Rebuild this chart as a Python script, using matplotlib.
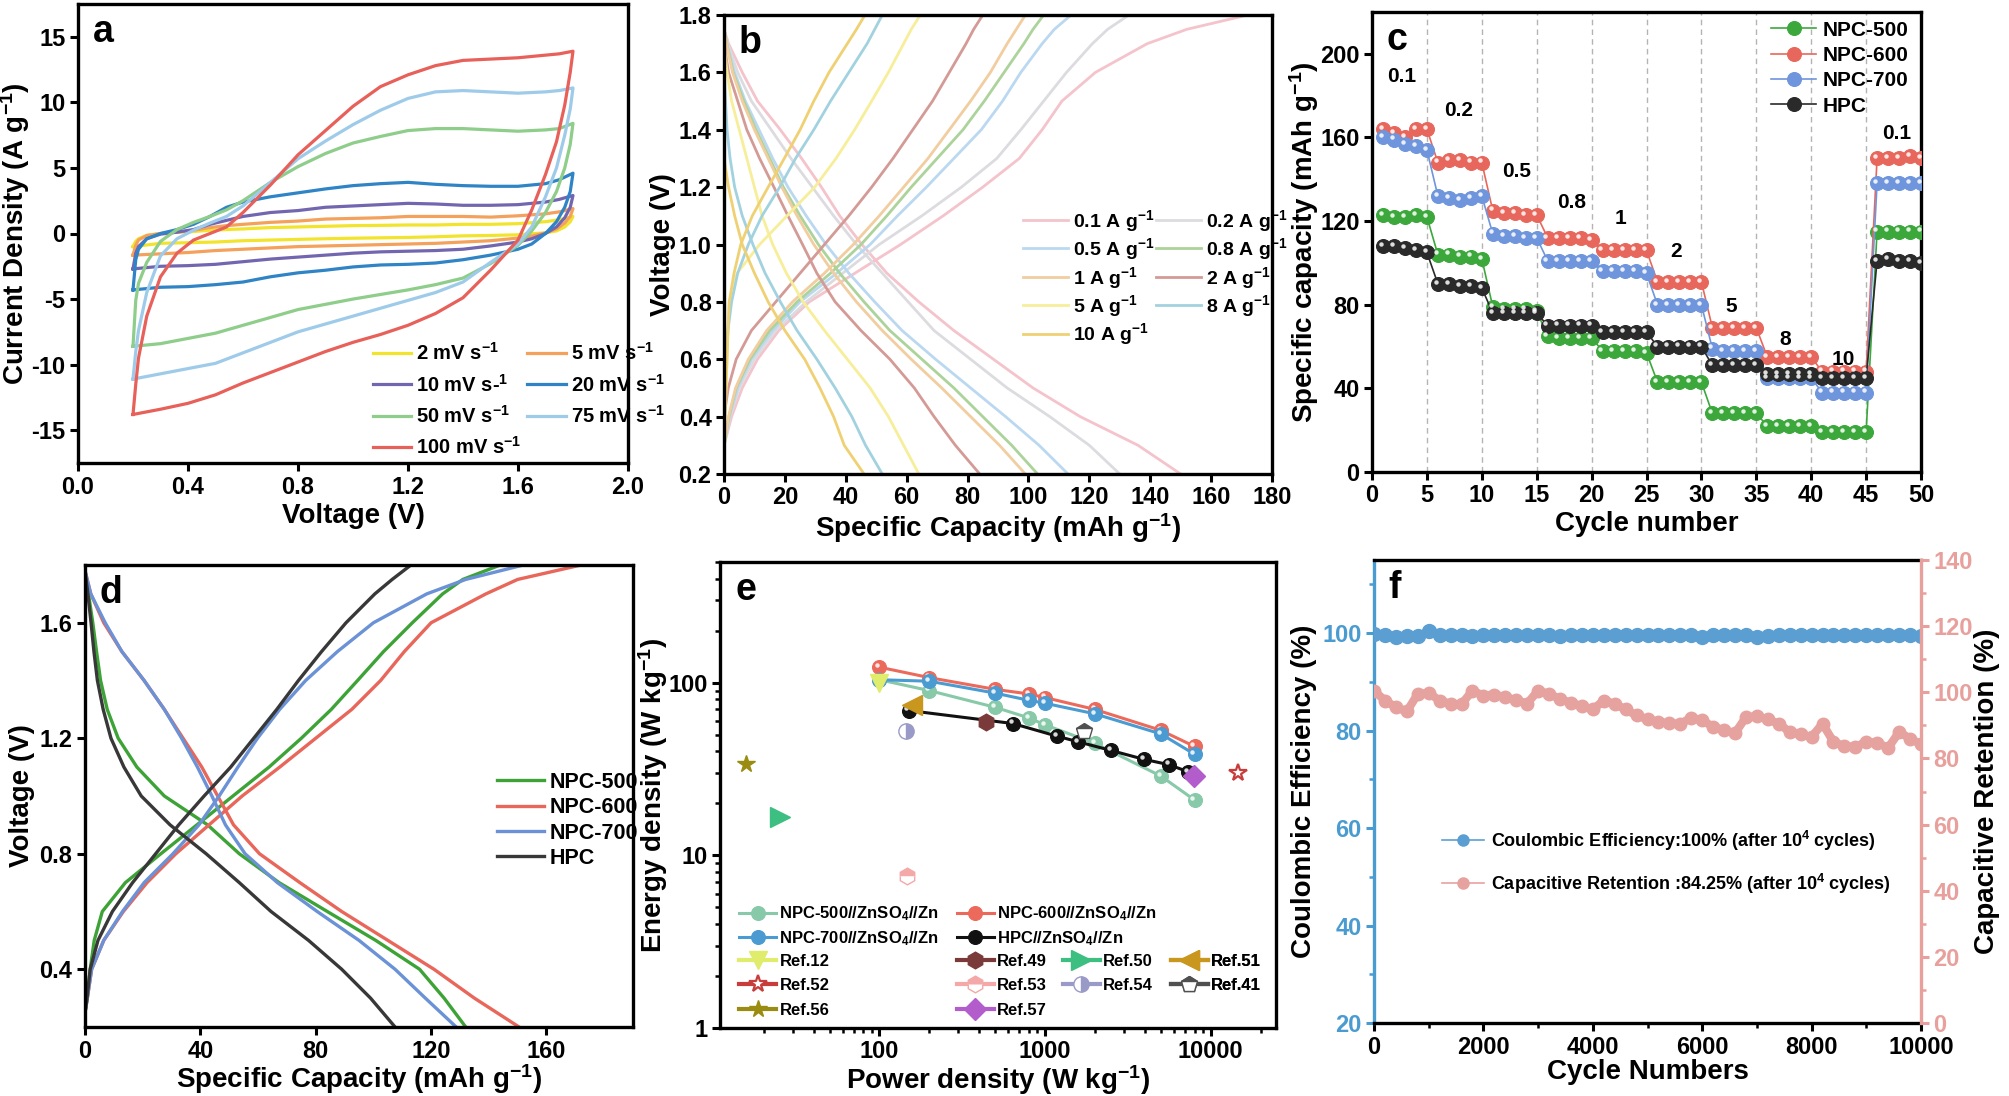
#!/usr/bin/env python3
import numpy as np
import matplotlib
matplotlib.use('Agg')
import matplotlib.pyplot as plt
import matplotlib.transforms as mtransforms
from matplotlib.ticker import MultipleLocator, LogLocator, NullFormatter, FormatStrFormatter

nan = np.nan

# ---------------- (a) CV curves at different scan rates ----------------
cv_fwd_v = [0.20, 0.21, 0.22, 0.25, 0.30, 0.36, 0.42, 0.48, 0.54, 0.60, 0.70, 0.80,
            0.90, 1.00, 1.10, 1.20, 1.30, 1.40, 1.50, 1.60, 1.70, 1.75, 1.80]
cv_rev_v = [1.80, 1.79, 1.77, 1.74, 1.70, 1.65, 1.60, 1.50, 1.40, 1.30, 1.20, 1.10,
            1.00, 0.90, 0.80, 0.70, 0.60, 0.50, 0.40, 0.30, 0.20]
cv2_fwd = [-1.0, -0.6, -0.4, -0.15, 0.0, 0.1, 0.15, 0.25, 0.3, 0.35, 0.45, 0.5, 0.55, 0.6, 0.62, 0.65, 0.65, 0.7, 0.7, 0.75, 0.9, 1.05, 1.3]
cv2_rev = [1.3, 0.9, 0.5, 0.2, 0.05, -0.02, -0.1, -0.15, -0.18, -0.25, -0.3, -0.33, -0.36, -0.4, -0.45, -0.5, -0.55, -0.65, -0.7, -0.75, -1.0]
cv5_fwd = [-1.65, -0.9, -0.5, -0.15, 0.0, 0.1, 0.25, 0.45, 0.6, 0.7, 0.85, 0.95, 1.1, 1.15, 1.2, 1.3, 1.3, 1.3, 1.25, 1.35, 1.5, 1.65, 1.9]
cv5_rev = [1.9, 1.3, 0.8, 0.35, 0.05, -0.2, -0.35, -0.55, -0.65, -0.75, -0.8, -0.85, -0.9, -0.95, -1.0, -1.1, -1.2, -1.3, -1.45, -1.55, -1.65]
cv10_fwd = [-2.7, -1.5, -1.0, -0.4, -0.05, 0.1, 0.3, 0.7, 1.0, 1.3, 1.6, 1.75, 2.0, 2.1, 2.2, 2.3, 2.25, 2.15, 2.15, 2.2, 2.4, 2.6, 2.9]
cv10_rev = [2.9, 2.0, 1.2, 0.5, 0.0, -0.4, -0.65, -0.95, -1.2, -1.3, -1.35, -1.4, -1.5, -1.65, -1.8, -1.95, -2.15, -2.35, -2.45, -2.5, -2.7]
cv20_fwd = [-4.3, -2.0, -1.2, -0.4, 0.0, 0.3, 0.7, 1.3, 2.0, 2.4, 2.8, 3.1, 3.4, 3.65, 3.8, 3.9, 3.75, 3.65, 3.6, 3.6, 3.8, 4.1, 4.6]
cv20_rev = [4.6, 3.2, 2.0, 0.9, 0.0, -0.8, -1.2, -1.65, -2.0, -2.25, -2.35, -2.4, -2.55, -2.8, -3.0, -3.3, -3.7, -3.9, -4.05, -4.1, -4.3]
cv50_fwd = [-8.6, -5.1, -3.8, -2.2, -0.6, 0.3, 0.85, 1.3, 1.8, 2.5, 3.9, 5.1, 6.1, 6.9, 7.4, 7.85, 8.0, 8.0, 7.9, 7.8, 7.9, 8.0, 8.4]
cv50_rev = [8.4, 6.8, 5.0, 3.2, 1.6, 0.2, -0.9, -2.3, -3.4, -3.9, -4.3, -4.65, -5.0, -5.4, -5.8, -6.4, -7.0, -7.6, -8.0, -8.4, -8.6]
cv75_fwd = [-11.1, -9.0, -7.4, -4.5, -1.7, -0.4, 0.25, 0.8, 1.3, 2.1, 3.9, 5.7, 7.05, 8.3, 9.4, 10.3, 10.8, 10.9, 10.8, 10.7, 10.8, 10.9, 11.1]
cv75_rev = [11.1, 9.5, 7.5, 5.0, 2.8, 0.5, -0.8, -2.2, -3.7, -4.5, -5.1, -5.7, -6.3, -6.9, -7.5, -8.3, -9.1, -9.9, -10.3, -10.7, -11.1]
cv100_fwd = [-13.8, -11.5, -9.5, -6.3, -3.3, -1.5, -0.5, 0.0, 0.5, 1.6, 3.7, 6.0, 7.85, 9.7, 11.2, 12.1, 12.8, 13.2, 13.3, 13.4, 13.6, 13.7, 13.9]
cv100_rev = [13.9, 12.3, 9.8, 7.0, 4.5, 1.8, -0.5, -2.8, -4.9, -6.1, -7.0, -7.7, -8.3, -9.0, -9.8, -10.6, -11.4, -12.3, -12.95, -13.4, -13.8]
cv_labels = ['2 mV s$^{-1}$', '5 mV s$^{-1}$', '10 mV s-$^{1}$', '20 mV s$^{-1}$',
             '50 mV s$^{-1}$', '75 mV s$^{-1}$', '100 mV s$^{-1}$']

# ---------------- (b) GCD curves at different current densities ----------------
gcd_labels = ['0.1 A g$^{-1}$', '0.2 A g$^{-1}$', '0.5 A g$^{-1}$', '0.8 A g$^{-1}$', '1 A g$^{-1}$',
              '2 A g$^{-1}$', '5 A g$^{-1}$', '8 A g$^{-1}$', '10 A g$^{-1}$']
chg_v = [0.3, 0.4, 0.5, 0.6, 0.7, 0.8, 0.9, 1.0, 1.1, 1.2, 1.3, 1.4, 1.5, 1.6, 1.7, 1.75, 1.8]
chg_01 = [0, 2.5, 6, 11, 18, 28, 43, 58, 72, 85, 97, 104.5, 111, 122, 139, 152, 172]
chg_02 = [0, 2, 5, 10, 17, 27, 39, 51, 65, 78, 89.6, 97.5, 105, 112.5, 121, 126, 133]
chg_05 = [0, 1.8, 4.5, 9, 16, 25, 37, 48, 57, 66.5, 75.5, 84.5, 91.5, 97.5, 104.5, 108.5, 114]
chg_08 = [0, 1.6, 4, 8.5, 15, 24, 35, 45, 53.5, 61.5, 70, 78.5, 85.5, 92, 98.5, 101.5, 105]
chg_1 = [0, 1.5, 3.8, 8, 14, 22.5, 33, 42.5, 51, 59, 67, 74, 81, 87.5, 93, 96, 99]
chg_2 = [nan, 0, 1.4, 4, 9, 17, 25, 33, 41, 48.5, 55.5, 62, 68.5, 74, 79.5, 82, 85]
chg_5 = [0, 0.3, 0.7, 1.0, 1.3, 1.8, 4.3, 11.7, 20.7, 29.8, 36.8, 42.9, 48.5, 54, 59, 61.5, 64.5]
chg_8 = [0, 0.2, 0.4, 0.7, 1.3, 2.5, 4.5, 8, 12.5, 18.3, 23.5, 29.5, 35, 41, 47, 49.5, 52]
chg_10 = [0, 0.3, 0.6, 1.0, 1.3, 1.7, 3.3, 5.5, 9.3, 14.5, 19.8, 25, 29.5, 34.5, 40.5, 43.5, 46.3]
dis_v = [1.75, 1.7, 1.6, 1.5, 1.4, 1.3, 1.2, 1.1, 1.0, 0.9, 0.8, 0.7, 0.6, 0.5, 0.4, 0.3, 0.2]
dis_01 = [0, 1.5, 6, 11, 18.5, 25.5, 32, 38, 45.3, 53.5, 64, 75.5, 88.5, 101.5, 117, 136, 150]
dis_02 = [0, 1.2, 4.5, 9, 15.5, 22, 29, 36, 43.5, 52, 60.5, 69, 81, 93, 107, 120, 130]
dis_05 = [0, 1, 3.5, 7, 11.5, 16, 21, 27, 33.5, 41, 49.5, 58.5, 69.5, 81, 92.5, 103.5, 113]
dis_08 = [0, 0.9, 3, 6.5, 10.5, 15, 19.5, 25, 31, 38, 46, 54.5, 65, 75.5, 85, 94.5, 103]
dis_1 = [0, 0.8, 2.8, 6, 10, 14.5, 19, 24, 29.5, 36, 43.5, 52, 61.5, 71.5, 81, 90.5, 99]
dis_2 = [nan, 0, 1.5, 4.5, 7.5, 11.7, 16.4, 21, 25.8, 30.5, 36.5, 45, 54.5, 62.5, 69, 76, 84]
dis_5 = [nan, 0, 1, 2.5, 5, 7.5, 10, 12.5, 16, 20.5, 26, 33, 40.5, 48, 54, 59, 64]
dis_8 = [nan, nan, 0, 0.5, 1.0, 2, 3.5, 6, 9.5, 13.5, 18.5, 24, 30.5, 36.5, 42, 46.5, 52]
dis_10 = [nan, nan, nan, nan, nan, 0, 1.5, 3.5, 6, 10, 14.5, 20, 26.5, 31.5, 36, 39.5, 46]

# ---------------- (c) rate performance ----------------
cycles = np.arange(1, 51)
c_npc500 = [123, 122, 122, 123, 122, 104, 104, 103, 103, 102, 79, 78, 78, 78, 77, 65, 64, 64, 64, 64,
            58, 58, 58, 58, 57, 43, 43, 43, 43, 43, 28, 28, 28, 28, 28, 22, 22, 22, 22, 22,
            19, 19, 19, 19, 19, 115, 115, 115, 115, 115]
c_npc600 = [164, 162, 160, 164, 164, 148, 149, 149, 148, 148, 125, 124, 124, 123, 123, 112, 112, 112, 112, 111,
            106, 106, 106, 106, 106, 91, 91, 91, 91, 91, 69, 69, 69, 69, 69, 55, 55, 55, 55, 55,
            48, 48, 48, 48, 48, 150, 150, 150, 151, 150]
c_npc700 = [160, 159, 157, 156, 154, 132, 131, 130, 131, 132, 114, 113, 113, 112, 112, 101, 101, 101, 101, 101,
            96, 96, 96, 96, 95, 80, 80, 80, 80, 80, 59, 58, 58, 58, 58, 45, 45, 45, 45, 45,
            38, 38, 38, 38, 38, 138, 138, 138, 138, 138]
c_hpc = [108, 108, 107, 106, 105, 90, 90, 89, 89, 88, 76, 76, 76, 76, 76, 70, 70, 70, 70, 70,
         67, 67, 67, 67, 67, 60, 60, 60, 60, 60, 51, 51, 51, 51, 51, 47, 47, 47, 47, 47,
         45, 45, 45, 45, 45, 101, 102, 101, 101, 100]
rate_text = ['0.1', '0.2', '0.5', '0.8', '1', '2', '5', '8', '10', '0.1']
rate_x = [2.7, 7.9, 13.2, 18.2, 22.6, 27.7, 32.7, 37.6, 42.9, 47.8]
rate_y = [189, 173, 143.5, 129, 121, 105.5, 79, 63.6, 53.7, 162]
samples = ['NPC-500', 'NPC-600', 'NPC-700', 'HPC']

# ---------------- (d) GCD of the four samples ----------------
d_chg_v = [0.25, 0.3, 0.4, 0.5, 0.6, 0.7, 0.8, 0.9, 1.0, 1.1, 1.2, 1.3, 1.4, 1.5, 1.6, 1.7, 1.75, 1.8]
d_chg_500 = [0, 0.8, 1.8, 3.2, 6, 14, 26.3, 38.8, 51.3, 63.8, 75, 85.4, 94.5, 103.5, 113.5, 124, 131, 144]
d_chg_600 = [0, 0.8, 2.3, 6.5, 13.3, 21.5, 31.5, 43, 54.5, 67.5, 80, 92.5, 102.5, 110.7, 120, 139, 150, 172]
d_chg_700 = [0, 0.8, 2.3, 6.5, 13, 20.5, 30.5, 39.5, 46.5, 53, 59.8, 67.5, 76.5, 87.5, 100, 118.5, 132, 152]
d_chg_hpc = [0, 0.7, 1.8, 4.5, 9.5, 16.5, 24.5, 32.5, 41.3, 50.5, 58.5, 66.5, 74, 82, 90.5, 100.5, 106.5, 113]
d_dis_v = [1.78, 1.7, 1.6, 1.5, 1.4, 1.3, 1.2, 1.1, 1.0, 0.9, 0.8, 0.7, 0.6, 0.5, 0.4, 0.3, 0.2]
d_dis_500 = [0, 1.2, 2.7, 4, 5.4, 7.7, 11.5, 18, 27.5, 42.5, 53.5, 67.3, 84, 100.8, 116, 124.5, 132]
d_dis_600 = [0, 2, 6.5, 12.8, 20.5, 27.5, 34, 40.5, 46, 51.5, 60.5, 74.5, 89, 105, 121, 135, 150.5]
d_dis_700 = [0, 2, 7, 12.8, 20.5, 27.5, 33.5, 39, 44, 48.7, 55.5, 66.7, 80.5, 95, 107.5, 118, 128.7]
d_dis_hpc = [0, 1, 2.1, 3.1, 4.3, 6.3, 9, 13.5, 19.5, 29.5, 42, 53.5, 64.5, 77.5, 89, 99, 107.5]

# ---------------- (e) Ragone plot ----------------
e_power = [100, 200, 500, 800, 1000, 2000, 5000, 8000]
e_500 = [104, 90, 72, 62.5, 57, 44.5, 28.8, 20.9]
e_600 = [123, 107, 91.5, 86, 82, 70, 53, 42.7]
e_700 = [104, 102, 87, 79, 76, 66, 50.5, 38.5]
e_hpc_power = [150, 640, 1180, 1580, 2500, 3950, 5600, 7300]
e_hpc = [69, 58, 49, 45.5, 40.5, 36, 33.5, 30.5]
ref_names = ['Ref.12', 'Ref.49', 'Ref.50', 'Ref.51', 'Ref.52', 'Ref.53', 'Ref.54', 'Ref.41', 'Ref.56', 'Ref.57']
ref_power = [100, 441, 25.2, 157, 14700, 146, 144, 1720, 15.6, 7960]
ref_energy = [99, 59.3, 16.6, 73.8, 29.8, 7.64, 52.2, 52.7, 33.8, 28.7]

# ---------------- (f) long-term cycling ----------------
f_cycle = np.arange(0, 10001, 200)
f_ce = [99.8, 99.7, 99.3, 99.5, 99.4, 100.4, 99.7, 99.6, 99.7, 99.5, 99.7, 99.6, 99.7, 99.6, 99.7, 99.6, 99.7,
        99.5, 99.7, 99.6, 99.7, 99.6, 99.7, 99.6, 99.7, 99.6, 99.7, 99.6, 99.7, 99.6, 99.3, 99.7, 99.6, 99.7,
        99.6, 99.3, 99.4, 99.7, 99.6, 99.7, 99.6, 99.7, 99.6, 99.7, 99.6, 99.7, 99.6, 99.7, 99.6, 99.7, 99.5]
f_ret = [100.5, 97.5, 95.5, 94.2, 99.5, 99.8, 97.5, 96.5, 96.4, 100.5, 99, 99.3, 98.5, 97.6, 96.6, 100.5,
         99.5, 98, 96.8, 95.8, 94.8, 97.5, 96.5, 94.8, 93, 91.8, 91, 90.6, 90.5, 92.3, 91.5, 89.6, 88.5,
         87.6, 92.5, 92.7, 91.8, 90.5, 88, 87.3, 86.5, 90.5, 85, 83.7, 83.5, 85, 84.7, 83.2, 88, 86, 84.3]

# ---------------- style ----------------
WIDE = ['Liberation Sans', 'DejaVu Sans']
plt.rcParams['font.family'] = WIDE
plt.rcParams['font.weight'] = 'bold'
plt.rcParams['mathtext.default'] = 'regular'
plt.rcParams['axes.unicode_minus'] = False
plt.rcParams['legend.frameon'] = False

fig = plt.figure(figsize=(20.09, 10.96), dpi=100)
W, H = 2009.0, 1096.0


def add_ax(left, top, right, bottom):
    return fig.add_axes([left / W, 1 - bottom / H, (right - left) / W, (bottom - top) / H])


def style(ax):
    for s in ax.spines.values():
        s.set_linewidth(2.4)
    ax.tick_params(which='major', direction='out', length=6, width=2.2, labelsize=17, pad=3)
    ax.tick_params(which='minor', direction='out', length=3.5, width=1.8)


def letter(ax, s):
    ax.text(0.027, 0.918, s, transform=ax.transAxes, fontsize=27, fontweight='bold',
            ha='left', va='baseline')


def labels(ax, xl, yl, xy, yx):
    ax.set_xlabel(xl, fontsize=20, fontweight='bold')
    ax.set_ylabel(yl, fontsize=20, fontweight='bold')
    ax.xaxis.set_label_coords(0.5, xy)
    ax.yaxis.set_label_coords(yx, 0.5)


def glossy(ax, x, y, color, ms, lw=1.3, label=None, zorder=3):
    line, = ax.plot(x, y, '-', color=color, lw=lw, marker='o', ms=ms, mec=color, mew=0.8,
                    label=label, zorder=zorder)
    hl = mtransforms.offset_copy(ax.transData, fig=fig, x=-ms * 0.16, y=ms * 0.16, units='points')
    ax.plot(x, y, ls='none', marker='o', ms=ms * 0.32, color='white', alpha=0.85, mew=0,
            transform=hl, zorder=zorder + 0.1)
    return line


# ======== (a) ========
ax = add_ax(78, 4, 628, 463)
style(ax)
cv_fwd = [cv2_fwd, cv5_fwd, cv10_fwd, cv20_fwd, cv50_fwd, cv75_fwd, cv100_fwd]
cv_rev = [cv2_rev, cv5_rev, cv10_rev, cv20_rev, cv50_rev, cv75_rev, cv100_rev]
cv_colors = ['#f2e42c', '#f4a15c', '#7366b0', '#2f84c5', '#8fcd8b', '#9ecbe9', '#e8605a']
hs = []
for f_i, r_i, col, lab in zip(cv_fwd, cv_rev, cv_colors, cv_labels):
    h, = ax.plot(cv_fwd_v + cv_rev_v[1:], f_i + r_i[1:], color=col, lw=2.3, label=lab)
    hs.append(h)
order = [0, 2, 4, 6, 1, 3, 5]
ax.legend([hs[k] for k in order], [cv_labels[k] for k in order], ncol=2, loc='upper left',
          bbox_to_anchor=(0.536, 0.263), borderaxespad=0, borderpad=0, fontsize=14.5,
          handlelength=1.9, handletextpad=0.25, columnspacing=0.3, labelspacing=0.47)
ax.set_xlim(0, 2.0)
ax.set_ylim(-17.5, 17.5)
ax.xaxis.set_major_locator(MultipleLocator(0.4))
ax.xaxis.set_major_formatter(FormatStrFormatter('%.1f'))
ax.yaxis.set_major_locator(MultipleLocator(5))
labels(ax, 'Voltage (V)', 'Current Density (A g$^{-1}$)', -0.088, -0.084)
letter(ax, 'a')

# ======== (b) ========
ax = add_ax(724, 15, 1272, 474)
style(ax)
gcd_colors = ['#f4c3cb', '#dcdce0', '#bbd8f1', '#abd39a', '#f1cd9f', '#d49a96', '#f7ee9a', '#a2d2df', '#efd173']
chg_all = [chg_01, chg_02, chg_05, chg_08, chg_1, chg_2, chg_5, chg_8, chg_10]
dis_all = [dis_01, dis_02, dis_05, dis_08, dis_1, dis_2, dis_5, dis_8, dis_10]
hs = []
for cq, dq, col, lab in zip(chg_all, dis_all, gcd_colors, gcd_labels):
    cq = np.array(cq, float)
    dq = np.array(dq, float)
    m = ~np.isnan(cq)
    h, = ax.plot(cq[m], np.array(chg_v)[m], color=col, lw=2.0, label=lab)
    m = ~np.isnan(dq)
    ax.plot(dq[m], np.array(dis_v)[m], color=col, lw=2.0)
    hs.append(h)
order = [0, 2, 4, 6, 8, 1, 3, 5, 7]
ax.legend([hs[k] for k in order], [gcd_labels[k] for k in order], ncol=2, loc='upper left',
          bbox_to_anchor=(0.546, 0.58), borderaxespad=0, borderpad=0, fontsize=14,
          handlelength=2.3, handletextpad=0.25, columnspacing=0.1, labelspacing=0.13)
ax.set_xlim(0, 180)
ax.set_ylim(0.2, 1.8)
ax.xaxis.set_major_locator(MultipleLocator(20))
ax.yaxis.set_major_locator(MultipleLocator(0.2))
ax.yaxis.set_major_formatter(FormatStrFormatter('%.1f'))
labels(ax, 'Specific Capacity (mAh g$^{-1}$)', 'Voltage (V)', -0.082, -0.088)
letter(ax, 'b')

# ======== (c) ========
ax = add_ax(1372, 12, 1921, 472)
style(ax)
for xv in range(5, 50, 5):
    ax.axvline(xv, color='#b4b4b4', lw=1.0, ls=(0, (4, 3)), zorder=1)
c_colors = ['#3ca83c', '#e8675c', '#6f95dc', '#2a2a2a']
for vals, col, lab in zip([c_npc500, c_npc600, c_npc700, c_hpc], c_colors, samples):
    glossy(ax, cycles, vals, col, 10, lw=1.2, label=lab)
for t, xv, yv in zip(rate_text, rate_x, rate_y):
    ax.text(xv, yv, t, fontsize=15, fontweight='bold', ha='center', va='center')
ax.legend(loc='upper right', bbox_to_anchor=(0.985, 0.99), borderaxespad=0, borderpad=0.2,
          fontsize=15, handlelength=2.2, handletextpad=0.3, labelspacing=0.3)
ax.set_xlim(0, 50)
ax.set_ylim(0, 220)
ax.xaxis.set_major_locator(MultipleLocator(5))
ax.yaxis.set_major_locator(MultipleLocator(40))
labels(ax, 'Cycle number', 'Specific capacity (mAh g$^{-1}$)', -0.085, -0.093)
letter(ax, 'c')

# ======== (d) ========
ax = add_ax(85, 565, 633, 1027)
style(ax)
d_colors = ['#3da336', '#e8665a', '#6b92d6', '#383838']
for cq, dq, col, lab in zip([d_chg_500, d_chg_600, d_chg_700, d_chg_hpc],
                            [d_dis_500, d_dis_600, d_dis_700, d_dis_hpc], d_colors, samples):
    ax.plot(cq, d_chg_v, color=col, lw=2.4, label=lab)
    ax.plot(dq, d_dis_v, color=col, lw=2.4)
ax.legend(loc='upper left', bbox_to_anchor=(0.752, 0.552), borderaxespad=0, borderpad=0,
          fontsize=15.5, handlelength=2.2, handletextpad=0.25, labelspacing=0.2)
ax.set_xlim(0, 190)
ax.set_ylim(0.2, 1.8)
ax.set_xticks([0, 40, 80, 120, 160])
ax.set_yticks([0.4, 0.8, 1.2, 1.6])
ax.yaxis.set_major_formatter(FormatStrFormatter('%.1f'))
labels(ax, 'Specific Capacity (mAh g$^{-1}$)', 'Voltage (V)', -0.077, -0.091)
letter(ax, 'd')

# ======== (e) ========
ax = add_ax(720, 562, 1276, 1028)
style(ax)
ax.set_xscale('log')
ax.set_yscale('log')
ax.set_xlim(10.9, 24800)
ax.set_ylim(1, 500)
h500 = glossy(ax, e_power, e_500, '#88c9a9', 10, lw=2.2, zorder=3)
h600 = glossy(ax, e_power, e_600, '#ec6a5c', 10, lw=2.2, zorder=3.2)
h700 = glossy(ax, e_power, e_700, '#4a9bd2', 10, lw=2.2, zorder=3.4)
hhpc = glossy(ax, e_hpc_power, e_hpc, '#111111', 10, lw=2.2, zorder=3.6)
ref_marker = ['v', 'h', '>', '<', '*', 'h', 'o', 'p', '*', 'D']
ref_color = ['#e0ec6c', '#7a3a3a', '#3cbf80', '#c9961e', '#c83c3c', '#f4a8a8', '#9a9ac8', '#505050', '#9a8c10', '#b35ccc']
ref_fill = ['full', 'full', 'full', 'full', 'none', 'top', 'right', 'top', 'full', 'full']
ref_ms = [13, 12, 15, 15, 13, 12, 11, 12, 13, 11]
rh = {}
for n, px, ey, mk, col, fs, ms in zip(ref_names, ref_power, ref_energy, ref_marker, ref_color, ref_fill, ref_ms):
    kw = dict(marker=mk, ms=ms, color=col, ls='-', lw=3, zorder=5)
    if fs == 'none':
        kw.update(mfc='white', mec=col, mew=1.6)
    elif fs != 'full':
        kw.update(fillstyle=fs, mfcalt='white', mec=col, mew=1.0)
    h, = ax.plot([px], [ey], **kw)
    rh[n] = h
zn = '//ZnSO$_4$//Zn'
leg_y1 = 0.265
leg_y2 = 0.159
for hh, labs, xa, ya, sp in [([h500, h700], ['NPC-500' + zn, 'NPC-700' + zn], 0.035, leg_y1, 0.36),
                             ([h600, hhpc], ['NPC-600' + zn, 'HPC' + zn], 0.426, leg_y1, 0.36),
                             ([rh['Ref.12'], rh['Ref.52'], rh['Ref.56']], ['Ref.12', 'Ref.52', 'Ref.56'], 0.035, leg_y2, 0.56),
                             ([rh['Ref.49'], rh['Ref.53'], rh['Ref.57']], ['Ref.49', 'Ref.53', 'Ref.57'], 0.426, leg_y2, 0.56),
                             ([rh['Ref.50'], rh['Ref.54']], ['Ref.50', 'Ref.54'], 0.617, leg_y2, 0.56),
                             ([rh['Ref.51'], rh['Ref.41']], ['Ref.51', 'Ref.41'], 0.811, leg_y2, 0.56)]:
    lg = ax.legend(hh, labs, bbox_to_anchor=(xa, ya), loc='upper left', borderaxespad=0, borderpad=0,
                   fontsize=12, handlelength=2.2, handletextpad=0.2, labelspacing=sp)
    ax.add_artist(lg)
ax.set_xticks([100, 1000, 10000])
ax.set_xticklabels(['100', '1000', '10000'])
ax.set_yticks([1, 10, 100])
ax.set_yticklabels(['1', '10', '100'])
ax.xaxis.set_minor_locator(LogLocator(base=10, subs=np.arange(2, 10)))
ax.yaxis.set_minor_locator(LogLocator(base=10, subs=np.arange(2, 10)))
ax.xaxis.set_minor_formatter(NullFormatter())
ax.yaxis.set_minor_formatter(NullFormatter())
labels(ax, 'Power density (W kg$^{-1}$)', 'Energy density (W kg$^{-1}$)', -0.076, -0.09)
letter(ax, 'e')

# ======== (f) ========
blue = '#4a9bd0'
pink = '#e8a09c'
ax = add_ax(1374, 560, 1921, 1023)
style(ax)
ax2 = ax.twinx()
style(ax2)
ax.spines['left'].set_color(blue)
ax.spines['right'].set_visible(False)
ax2.spines['left'].set_visible(False)
ax2.spines['right'].set_color(pink)
ax2.spines['top'].set_visible(False)
ax2.spines['bottom'].set_visible(False)
hce, = ax.plot(f_cycle, f_ce, '-', color='#5b9fd2', lw=5, marker='o', ms=10, mec='#5b9fd2',
               label='Coulombic Efficiency:100% (after 10$^4$ cycles)', zorder=4)
hr, = ax2.plot(f_cycle, f_ret, '-', color='#e6a29e', lw=6, marker='o', ms=9, mec='#e6a29e',
               label='Capacitive Retention :84.25% (after 10$^4$ cycles)', zorder=3)
hce_leg, = ax.plot([], [], '-', color='#5b9fd2', lw=1.2, marker='o', ms=8)
hr_leg, = ax.plot([], [], '-', color='#e6a29e', lw=1.2, marker='o', ms=8)
ax.legend([hce_leg, hr_leg], [hce.get_label(), hr.get_label()], loc='upper left',
          bbox_to_anchor=(0.125, 0.42), borderaxespad=0, borderpad=0, fontsize=13,
          handlelength=2.3, handletextpad=0.4, labelspacing=1.05)
ax.set_xlim(0, 10000)
ax.set_ylim(20, 115)
ax2.set_ylim(0, 140)
ax.xaxis.set_major_locator(MultipleLocator(2000))
ax.xaxis.set_minor_locator(MultipleLocator(1000))
ax.yaxis.set_major_locator(MultipleLocator(20))
ax.yaxis.set_minor_locator(MultipleLocator(10))
ax2.yaxis.set_major_locator(MultipleLocator(20))
ax2.yaxis.set_minor_locator(MultipleLocator(10))
ax.tick_params(axis='y', which='both', colors=blue)
ax2.tick_params(axis='y', which='both', colors=pink)
labels(ax, 'Cycle Numbers', 'Coulombic Efficiency (%)', -0.077, -0.104)
ax2.set_ylabel('Capacitive Retention (%)', fontsize=20, fontweight='bold')
ax2.yaxis.set_label_coords(1.097, 0.5)
letter(ax, 'f')

fig.savefig('out.png', dpi=100)
